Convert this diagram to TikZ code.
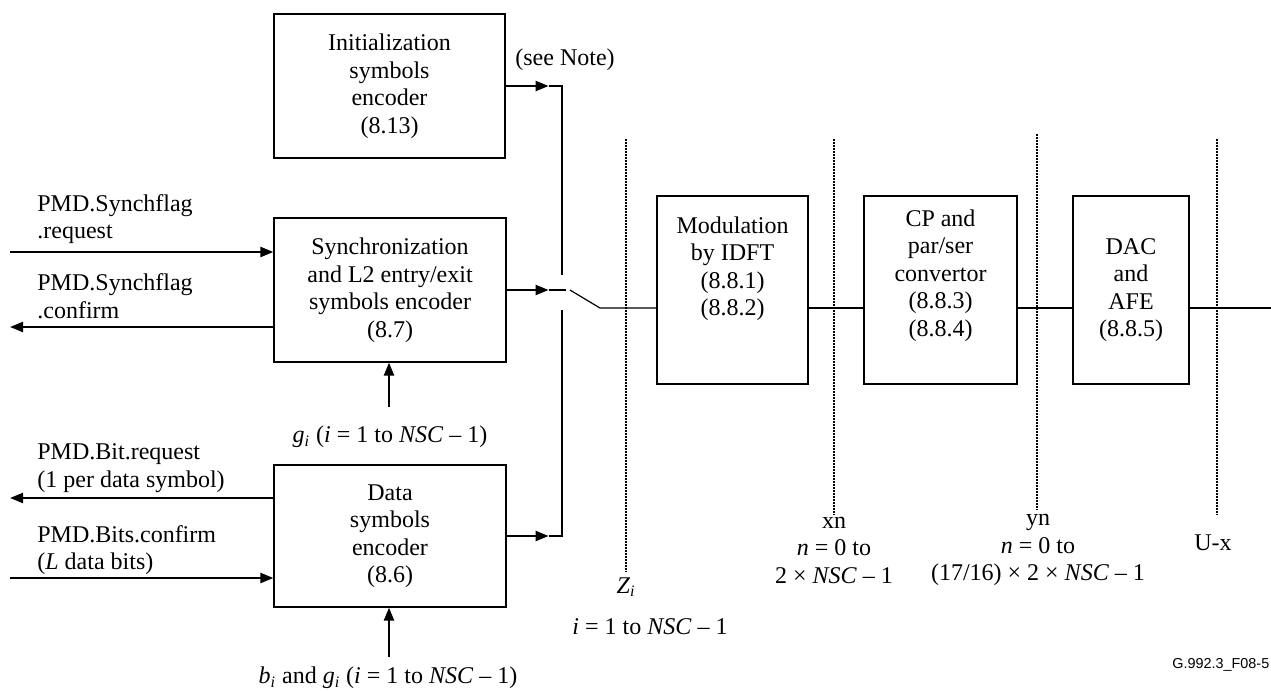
\documentclass[tikz,border=0pt]{standalone}
\usepackage{fontspec}
\setmainfont{Liberation Serif}
\setsansfont{Liberation Sans}
\usetikzlibrary{arrows.meta}
\usetikzlibrary{positioning}

\begin{document}
\begin{tikzpicture}[
    x=0.5pt, y=-0.5pt,
    font=\fontsize{12}{13.75}\selectfont
]
\tikzset{
    blok/.style = {draw=black, line width=0.6pt, inner sep=0pt, align=center},
    tekst/.style = {align=center, inner sep=0pt},
    linkstekst/.style = {align=left, anchor=west, inner sep=0pt},
    pijl/.style = {-{Triangle[length=6.5pt,width=5pt]}, line width=1.1pt},
    lijn/.style = {line width=0.6pt},
    grens/.style = {line width=1.2pt, dash pattern=on 0.8pt off 0.7pt}
}
\useasboundingbox (0,0) rectangle (1271,691);

\node[blok, minimum width=115.5pt, minimum height=72pt] at (389.5,86) (init) {Initialization\\symbols\\encoder\\(8.13)};
\node[blok, minimum width=116pt, minimum height=72pt] at (390,290) (sync) {Synchronization\\and L2 entry/exit\\symbols encoder\\(8.7)};
\node[blok, minimum width=116pt, minimum height=71pt] at (390,536) (data) {Data\\symbols\\encoder\\(8.6)};
\node[blok, minimum width=75.5pt, minimum height=94pt] at (732.5,290) (mod) {};
\node[tekst] at (732.5,268.5) (modtekst) {Modulation\\by IDFT\\(8.8.1)\\(8.8.2)};
\node[blok, minimum width=76.5pt, minimum height=94pt] at (940.5,290) (cp) {};
\node[tekst] at (940.5,275.5) (cptekst) {CP and\\par/ser\\convertor\\(8.8.3)\\(8.8.4)};
\node[blok, minimum width=58pt, minimum height=94pt] at (1131,290) (dac) {DAC\\and\\AFE\\(8.8.5)};

\node[tekst] at (565,60) (noot) {(see Note)};
\node[linkstekst] at (37,219) (syncreq) {PMD.Synchflag\\.request};
\node[linkstekst] at (37,296) (syncconf) {PMD.Synchflag\\.confirm};
\node[linkstekst] at (37,468) (bitreq) {PMD.Bit.request\\(1 per data symbol)};
\node[linkstekst] at (37,550) (bitconf) {PMD.Bits.confirm\\(\textit{L} data bits)};
\node[tekst] at (390,437) (glabel) {\textit{g}\textsubscript{\textit{i}} (\textit{i} = 1 to \textit{NSC} – 1)};
\node[tekst] at (388,678) (blabel) {\textit{b}\textsubscript{\textit{i}} and \textit{g}\textsubscript{\textit{i}} (\textit{i} = 1 to \textit{NSC} – 1)};

\coordinate (bovenpaal) at (562,275);
\coordinate (onderpaal) at (562,310);
\coordinate (schakel) at (570,290);
\coordinate (sw) at (600,308);
\coordinate (uit) at (1271,308);
\coordinate (reqin) at (10,252);
\coordinate (confuit) at (10,327);
\coordinate (bitreqin) at (10,498);
\coordinate (bitconfin) at (10,578);
\coordinate (gvoet) at (389,407);
\coordinate (bvoet) at (389,657);

\draw[pijl] (init.east) -- ++(43,0) coordinate (initkop);
\draw[lijn] (initkop) -| (bovenpaal);
\draw[pijl] (sync.east) -- ++(42,0) coordinate (synckop);
\draw[lijn] (synckop) -- ++(17,0);
\draw[pijl] (data.east) -- ++(42,0) coordinate (datakop);
\draw[lijn] (datakop) -| (onderpaal);
\draw[lijn] (schakel) -- (sw) -- (sw -| mod.west);
\draw[lijn] (mod.east |- sw) -- (cp.west |- sw);
\draw[lijn] (cp.east |- sw) -- (dac.west |- sw);
\draw[lijn] (dac.east |- sw) -- (uit);

\draw[pijl] (reqin) -- (reqin -| sync.west);
\draw[pijl] (confuit -| sync.west) -- (confuit);
\draw[pijl] (bitreqin -| data.west) -- (bitreqin);
\draw[pijl] (bitconfin) -- (bitconfin -| data.west);
\draw[pijl] (gvoet) -- (gvoet |- sync.south);
\draw[pijl] (bvoet) -- (bvoet |- data.south);

\draw[grens] (626,139) -- (626,572);
\draw[grens] (834,139) -- (834,515);
\draw[grens] (1037,134) -- (1037,510);
\draw[grens] (1217,139) -- (1217,515);

\node[tekst] at (626,587) (zilabel) {\textit{Z}\textsubscript{\textit{i}}};
\node[tekst] at (650,627) (zibereik) {\textit{i} = 1 to \textit{NSC} – 1};
\node[tekst] at (834,550) (xnlabel) {xn\\\textit{n} = 0 to\\2 × \textit{NSC} – 1};
\node[tekst] at (1038,550) (ynlabel) {yn\\\textit{n} = 0 to\\(17/16) × 2 × \textit{NSC} – 1};
\node[tekst] at (1213,543) (uxlabel) {U-x};
\node[tekst, anchor=west, font=\fontsize{7.2}{8}\selectfont\sffamily] at (1172,665) (figuurnr) {G.992.3\_F08-5};
\end{tikzpicture}
\end{document}
